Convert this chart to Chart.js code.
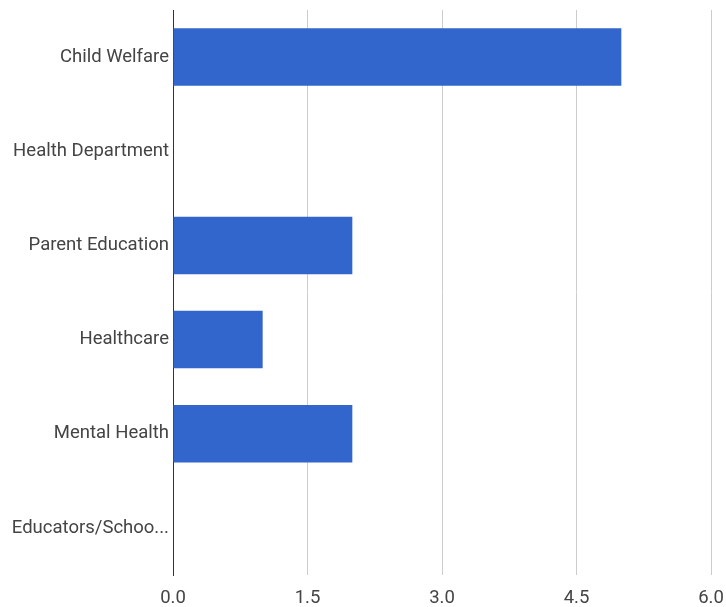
<!DOCTYPE html>
<html>
<head>
<meta charset="utf-8">
<script src="https://cdn.jsdelivr.net/npm/chart.js@4"></script>
<style>
  html, body { margin: 0; padding: 0; background: #fff; }
  #box { width: 726px; height: 607px; }
</style>
</head>
<body>
<div id="box"><canvas id="grafico"></canvas></div>
<script>
// categorias e valores
var categorias = ["Child Welfare", "Health Department", "Parent Education", "Healthcare", "Mental Health", "Educators/Schoo..."];
var valores = [5, 0, 2, 1, 2, 0];
var ticksX = [0, 1.5, 3.0, 4.5, 6.0];

Chart.defaults.font.family = "Roboto, Arial, sans-serif";
Chart.defaults.font.size = 18.5;
Chart.defaults.color = "#444";

var ctx = document.getElementById("grafico").getContext("2d");

new Chart(ctx, {
  type: "bar",
  data: {
    labels: categorias,
    datasets: [{
      data: valores,
      backgroundColor: "#3366cc",
      borderWidth: 0,
      categoryPercentage: 1,
      barPercentage: 0.61
    }]
  },
  options: {
    indexAxis: "y",
    responsive: true,
    maintainAspectRatio: false,
    animation: false,
    layout: { padding: { top: 10, right: 0, left: 0, bottom: 0 } },
    plugins: {
      legend: { display: false },
      tooltip: { enabled: false }
    },
    scales: {
      x: {
        min: 0,
        max: 6,
        afterBuildTicks: function(escala) {
          escala.ticks = ticksX.map(function(v) { return { value: v }; });
        },
        afterFit: function(escala) {
          escala.height = 32;
          escala.paddingLeft = 0;
          escala.paddingRight = 15;
        },
        ticks: {
          padding: 12,
          color: "#444",
          callback: function(v) { return Number(v).toFixed(1); }
        },
        grid: { color: "#cccccc", drawTicks: false },
        border: { display: false }
      },
      y: {
        afterFit: function(escala) {
          escala.width = 173;
          escala.paddingTop = 0;
          escala.paddingBottom = 0;
        },
        ticks: { padding: 4, color: "#444" },
        grid: { display: false, drawTicks: false },
        border: { display: true, color: "#333", width: 1 }
      }
    }
  }
});
</script>
</body>
</html>
